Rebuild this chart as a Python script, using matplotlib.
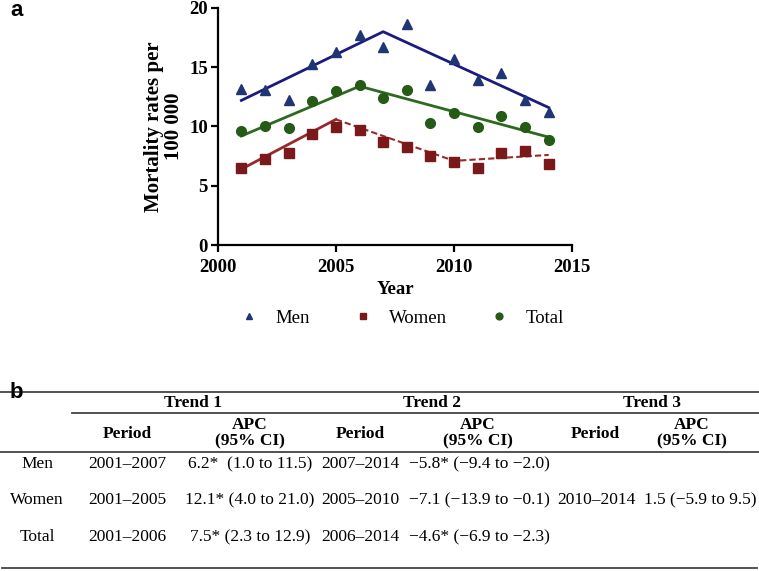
import matplotlib
matplotlib.use("Agg")
import matplotlib.pyplot as plt
from matplotlib.lines import Line2D

# ---------------- data ----------------
years = [2001, 2002, 2003, 2004, 2005, 2006, 2007, 2008, 2009, 2010, 2011, 2012, 2013, 2014]
men = [13.2, 13.1, 12.2, 15.3, 16.3, 17.7, 16.7, 18.65, 13.5, 15.7, 13.9, 14.5, 12.2, 11.2]
women = [6.47, 7.23, 7.8, 9.34, 9.93, 9.7, 8.66, 8.24, 7.54, 7.03, 6.5, 7.8, 7.96, 6.86]
total = [9.6, 10.0, 9.9, 12.15, 12.97, 13.5, 12.43, 13.1, 10.3, 11.1, 9.96, 10.9, 9.96, 8.9]

men_fit_years = [2001, 2007, 2014]
men_fit = [12.2, 18.0, 11.6]
women_fit_years_solid = [2001, 2005]
women_fit_solid = [6.4, 10.6]
women_fit_years_dash = [2005, 2010, 2014]
women_fit_dash = [10.6, 7.1, 7.6]
total_fit_years = [2001, 2006, 2014]
total_fit = [9.2, 13.4, 9.1]

x_ticks = [2000, 2005, 2010, 2015]
y_ticks = [0, 5, 10, 15, 20]

row_labels = ["Men", "Women", "Total"]
trend_titles = ["Trend 1", "Trend 2", "Trend 3"]
t1_period = ["2001\u20132007", "2001\u20132005", "2001\u20132006"]
t1_apc = ["6.2*  (1.0 to 11.5)", "12.1* (4.0 to 21.0)", "7.5* (2.3 to 12.9)"]
t2_period = ["2007\u20132014", "2005\u20132010", "2006\u20132014"]
t2_apc = ["\u22125.8* (\u22129.4 to \u22122.0)", "\u22127.1 (\u221213.9 to \u22120.1)", "\u22124.6* (\u22126.9 to \u22122.3)"]
t3_period = ["", "2010\u20132014", ""]
t3_apc = ["", "1.5 (\u22125.9 to 9.5)", ""]

# ---------------- styles ----------------
W, H = 759, 571
SERIF = ["Liberation Serif", "DejaVu Serif"]
c_men_m, c_men_l = "#1f3574", "#1b1b7e"
c_wom_m, c_wom_l = "#7a1919", "#962a2a"
c_tot_m, c_tot_l = "#265a17", "#2c6a1f"

def fx(x):
    return x / W

def fy(y):
    return 1 - y / H

fig = plt.figure(figsize=(W / 100, H / 100), dpi=100)
ax = fig.add_axes([fx(217.7), fy(245), (572.3 - 217.7) / W, (245 - 8) / H])

ax.plot(men_fit_years, men_fit, color=c_men_l, lw=2.0, zorder=2)
ax.plot(total_fit_years, total_fit, color=c_tot_l, lw=2.0, zorder=2)
ax.plot(women_fit_years_solid, women_fit_solid, color=c_wom_l, lw=2.0, zorder=2)
ax.plot(women_fit_years_dash, women_fit_dash, color=c_wom_l, lw=1.5, ls=(0, (3, 1.5)), zorder=2)

h_men, = ax.plot(years, men, ls="none", marker="^", ms=7, color=c_men_m, label="Men", zorder=3)
h_wom, = ax.plot(years, women, ls="none", marker="s", ms=6.5, color=c_wom_m, label="Women", zorder=3)
h_tot, = ax.plot(years, total, ls="none", marker="o", ms=7, color=c_tot_m, label="Total", zorder=3)

ax.set_xlim(2000, 2015)
ax.set_ylim(0, 20)
ax.set_xticks(x_ticks)
ax.set_yticks(y_ticks)
for s in ["top", "right"]:
    ax.spines[s].set_visible(False)
for s in ["left", "bottom"]:
    ax.spines[s].set_linewidth(1.6)
ax.tick_params(direction="out", length=5, width=1.6, labelsize=13.5)
ax.tick_params(axis="x", pad=5)
ax.tick_params(axis="y", pad=2)
for lab in ax.get_xticklabels() + ax.get_yticklabels():
    lab.set_fontfamily(SERIF)
    lab.set_fontweight("bold")
ax.set_xlabel("Year", fontfamily=SERIF, fontweight="bold", fontsize=13.5, labelpad=4)
ax.set_ylabel("Mortality rates per\n100 000", fontfamily=SERIF, fontweight="bold",
              fontsize=15, labelpad=4, linespacing=1.0)

leg = fig.legend(handles=[h_men, h_wom, h_tot], loc="center",
                 bbox_to_anchor=(fx(402), fy(318)), ncol=3, frameon=False,
                 prop={"family": SERIF, "size": 13.5}, handletextpad=0.9,
                 columnspacing=2.3, markerscale=0.7, handlelength=1.0)

fig.text(fx(10), fy(10), "a", fontsize=16, fontweight="bold", family="Liberation Sans", va="center", ha="left")
fig.text(fx(10), fy(393), "b", fontsize=16, fontweight="bold", family="Liberation Sans", va="center", ha="left")

# ---------------- table ----------------
def hline(y, x0, x1, lw=1.3, color="#444444"):
    fig.add_artist(Line2D([fx(x0), fx(x1)], [fy(y), fy(y)], lw=lw, color=color, transform=fig.transFigure))

hline(392, 0, 759)
hline(413, 72, 759)
hline(452, 0, 759)
hline(568, 2, 757)

fs = 12.5
trend_x = [193, 432, 652]
for t, x in zip(trend_titles, trend_x):
    fig.text(fx(x), fy(403), t, fontsize=fs, fontweight="bold", family=SERIF, ha="center", va="center")

period_x = [127, 360, 595]
apc_x = [250, 478, 692]
for px in period_x:
    fig.text(fx(px), fy(434), "Period", fontsize=fs, fontweight="bold", family=SERIF, ha="center", va="center")
for ax_ in apc_x:
    fig.text(fx(ax_), fy(433), "APC\n(95% CI)", fontsize=fs, fontweight="bold", family=SERIF,
             ha="center", va="center", linespacing=1.05)

row_y = [464, 500, 537]
label_x = 37
apc_data_x = [250, 479, 700]
cols = [(period_x[0], t1_period), (apc_data_x[0], t1_apc),
        (period_x[1], t2_period), (apc_data_x[1], t2_apc),
        (596, t3_period), (apc_data_x[2], t3_apc)]
for i, y in enumerate(row_y):
    fig.text(fx(label_x), fy(y), row_labels[i], fontsize=fs, family=SERIF, ha="center", va="center")
    for cx, vals in cols:
        if vals[i]:
            fig.text(fx(cx), fy(y), vals[i], fontsize=fs, family=SERIF, ha="center", va="center")

fig.savefig("out.png", dpi=100)
